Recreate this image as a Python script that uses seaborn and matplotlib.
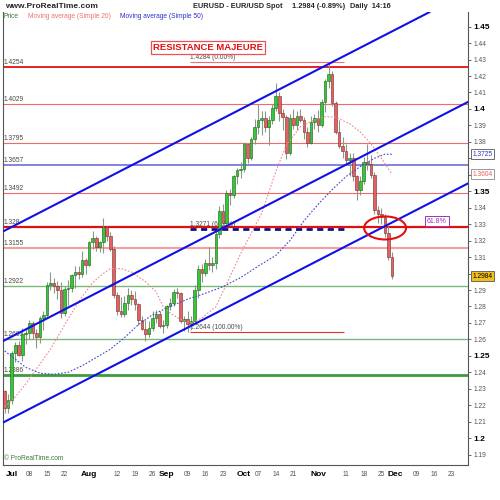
import numpy as np
import pandas as pd
import matplotlib
matplotlib.use("Agg")
import matplotlib.pyplot as plt
import seaborn as sns
from matplotlib.patches import Ellipse

# ---- data (EUR/USD daily) ----
first_day = "2010-06-29"
last_day = "2010-11-30"

opens = [1.2285, 1.2185, 1.2232, 1.2518, 1.2565, 1.2508, 1.2630, 1.2640, 1.2700, 1.2640,
         1.2615, 1.2730, 1.2750, 1.2930, 1.2945, 1.2925, 1.2900, 1.2760, 1.2905, 1.2915,
         1.2990, 1.3010, 1.2995, 1.3085, 1.3050, 1.3190, 1.3215, 1.3160, 1.3190, 1.3280,
         1.3230, 1.3150, 1.2870, 1.2775, 1.2755, 1.2820, 1.2870, 1.2845, 1.2815, 1.2715,
         1.2665, 1.2635, 1.2670, 1.2730, 1.2755, 1.2680, 1.2690, 1.2800, 1.2820, 1.2890,
         1.2880, 1.2710, 1.2725, 1.2695, 1.2710, 1.2900, 1.3030, 1.3005, 1.3065, 1.3050,
         1.3065, 1.3240, 1.3380, 1.3310, 1.3490, 1.3475, 1.3590, 1.3630, 1.3635, 1.3790,
         1.3700, 1.3815, 1.3890, 1.3935, 1.3945, 1.3890, 1.3930, 1.4005, 1.4080, 1.3975,
         1.3950, 1.3735, 1.3945, 1.3900, 1.3960, 1.3935, 1.3860, 1.3795, 1.3920, 1.3945,
         1.3900, 1.4040, 1.4170, 1.4210, 1.4035, 1.3860, 1.3775, 1.3745, 1.3690, 1.3700,
         1.3590, 1.3505, 1.3560, 1.3680, 1.3665, 1.3600, 1.3385, 1.3360, 1.3345, 1.3245,
         1.3100]
highs = [1.2292, 1.2270, 1.2530, 1.2585, 1.2590, 1.2670, 1.2665, 1.2720, 1.2712, 1.2665,
         1.2745, 1.2775, 1.2950, 1.3010, 1.2970, 1.2955, 1.2950, 1.2925, 1.2960, 1.3000,
         1.3045, 1.3045, 1.3140, 1.3095, 1.3200, 1.3260, 1.3230, 1.3200, 1.3335, 1.3290,
         1.3250, 1.3165, 1.2890, 1.2860, 1.2865, 1.2910, 1.2900, 1.2895, 1.2820, 1.2745,
         1.2715, 1.2710, 1.2770, 1.2780, 1.2775, 1.2720, 1.2810, 1.2850, 1.2905, 1.2915,
         1.2890, 1.2745, 1.2775, 1.2745, 1.2930, 1.3050, 1.3060, 1.3090, 1.3160, 1.3100,
         1.3265, 1.3410, 1.3420, 1.3510, 1.3515, 1.3600, 1.3640, 1.3680, 1.3800, 1.3795,
         1.3830, 1.3940, 1.4030, 1.3990, 1.3985, 1.3960, 1.4030, 1.4160, 1.4100, 1.4000,
         1.3965, 1.3970, 1.4000, 1.3990, 1.4000, 1.3950, 1.3890, 1.3960, 1.3970, 1.3995,
         1.4060, 1.4180, 1.4282, 1.4230, 1.4050, 1.3930, 1.3830, 1.3790, 1.3730, 1.3730,
         1.3600, 1.3590, 1.3710, 1.3785, 1.3720, 1.3620, 1.3410, 1.3400, 1.3360, 1.3290,
         1.3130]
lows = [1.2153, 1.2150, 1.2205, 1.2460, 1.2500, 1.2470, 1.2570, 1.2605, 1.2600, 1.2550,
        1.2580, 1.2660, 1.2730, 1.2900, 1.2880, 1.2845, 1.2730, 1.2745, 1.2810, 1.2885,
        1.2910, 1.2965, 1.2980, 1.2995, 1.3045, 1.3150, 1.3140, 1.3130, 1.3125, 1.3200,
        1.3140, 1.2850, 1.2750, 1.2735, 1.2735, 1.2780, 1.2810, 1.2780, 1.2690, 1.2655,
        1.2588, 1.2615, 1.2650, 1.2700, 1.2670, 1.2640, 1.2670, 1.2780, 1.2800, 1.2850,
        1.2700, 1.2650, 1.2644, 1.2660, 1.2700, 1.2850, 1.2950, 1.2985, 1.3020, 1.3010,
        1.3030, 1.3215, 1.3290, 1.3300, 1.3415, 1.3460, 1.3545, 1.3580, 1.3620, 1.3670,
        1.3690, 1.3790, 1.3850, 1.3840, 1.3860, 1.3780, 1.3910, 1.3990, 1.3925, 1.3870,
        1.3695, 1.3720, 1.3880, 1.3870, 1.3920, 1.3820, 1.3770, 1.3785, 1.3880, 1.3860,
        1.3890, 1.3980, 1.4130, 1.4020, 1.3850, 1.3760, 1.3700, 1.3660, 1.3590, 1.3560,
        1.3445, 1.3480, 1.3545, 1.3630, 1.3580, 1.3360, 1.3310, 1.3300, 1.3220, 1.3080,
        1.2968]
closes = [1.2185, 1.2232, 1.2518, 1.2565, 1.2508, 1.2630, 1.2640, 1.2700, 1.2640, 1.2615,
          1.2730, 1.2750, 1.2930, 1.2945, 1.2925, 1.2900, 1.2760, 1.2905, 1.2915, 1.2990,
          1.3010, 1.2995, 1.3085, 1.3050, 1.3190, 1.3215, 1.3160, 1.3190, 1.3280, 1.3230,
          1.3150, 1.2870, 1.2775, 1.2755, 1.2820, 1.2870, 1.2845, 1.2815, 1.2715, 1.2665,
          1.2635, 1.2670, 1.2730, 1.2755, 1.2680, 1.2690, 1.2800, 1.2820, 1.2890, 1.2880,
          1.2710, 1.2725, 1.2695, 1.2710, 1.2900, 1.3030, 1.3005, 1.3065, 1.3050, 1.3065,
          1.3240, 1.3380, 1.3310, 1.3490, 1.3475, 1.3590, 1.3630, 1.3635, 1.3790, 1.3700,
          1.3815, 1.3890, 1.3935, 1.3945, 1.3890, 1.3930, 1.4005, 1.4080, 1.3975, 1.3950,
          1.3735, 1.3945, 1.3900, 1.3960, 1.3935, 1.3860, 1.3795, 1.3920, 1.3945, 1.3900,
          1.4040, 1.4170, 1.4210, 1.4035, 1.3860, 1.3775, 1.3745, 1.3690, 1.3700, 1.3590,
          1.3505, 1.3560, 1.3680, 1.3665, 1.3600, 1.3385, 1.3360, 1.3345, 1.3245, 1.3100,
          1.2984]

sma20_dates = ["2010-06-29", "2010-07-02", "2010-07-07", "2010-07-12", "2010-07-16",
               "2010-07-21", "2010-07-26", "2010-07-29", "2010-08-03", "2010-08-06",
               "2010-08-10", "2010-08-13", "2010-08-18", "2010-08-20", "2010-08-24",
               "2010-08-27", "2010-08-31", "2010-09-02", "2010-09-07", "2010-09-10",
               "2010-09-15", "2010-09-21", "2010-09-27", "2010-09-30", "2010-10-04",
               "2010-10-08", "2010-10-14", "2010-10-19", "2010-10-25", "2010-10-29",
               "2010-11-03", "2010-11-08", "2010-11-12", "2010-11-17", "2010-11-22",
               "2010-11-25", "2010-11-30"]
sma20_vals = [1.2190, 1.2250, 1.2330, 1.2420, 1.2540, 1.2650, 1.2760, 1.2860, 1.2945,
              1.3000, 1.3030, 1.3030, 1.3010, 1.2980, 1.2950, 1.2890, 1.2800, 1.2760,
              1.2720, 1.2700, 1.2730, 1.2799, 1.2981, 1.3120, 1.3203, 1.3366, 1.3620,
              1.3780, 1.3892, 1.3933, 1.3953, 1.3950, 1.3910, 1.3860, 1.3790, 1.3700,
              1.3604]

sma50_dates = ["2010-06-29", "2010-07-02", "2010-07-07", "2010-07-13", "2010-07-19",
               "2010-07-23", "2010-07-29", "2010-08-04", "2010-08-10", "2010-08-16",
               "2010-08-20", "2010-08-26", "2010-09-02", "2010-09-09", "2010-09-16",
               "2010-09-23", "2010-09-30", "2010-10-07", "2010-10-14", "2010-10-20",
               "2010-10-26", "2010-11-01", "2010-11-05", "2010-11-11", "2010-11-17",
               "2010-11-23", "2010-11-26", "2010-11-30"]
sma50_vals = [1.2530, 1.2480, 1.2430, 1.2395, 1.2388, 1.2400, 1.2440, 1.2490, 1.2540,
              1.2610, 1.2690, 1.2750, 1.2800, 1.2845, 1.2880, 1.2920, 1.2975, 1.3045,
              1.3110, 1.3200, 1.3320, 1.3420, 1.3510, 1.3590, 1.3650, 1.3700, 1.3725,
              1.3725]

# horizontal levels: value, label, colour, width
level_vals = [1.4254, 1.4029, 1.3795, 1.3657, 1.3492, 1.328, 1.3155, 1.2922, 1.2603, 1.2386]
level_labels = ["1.4254", "1.4029", "1.3795", "1.3657", "1.3492", "1.328", "1.3155",
                "1.2922", "1.2603", "1.2386"]
level_colors = ["#e01010", "#f06a6a", "#f06a6a", "#7a7ad8", "#f06a6a", "#e01010",
                "#f4a0a0", "#7ab87a", "#7ab87a", "#3c9c3c"]
level_widths = [1.3, 0.8, 0.8, 1.3, 0.8, 1.6, 1.5, 1.0, 1.0, 2.0]

# channel lines: two anchor points each (date, price)
channel_dates = ["2010-07-01", "2010-11-30"]
channel_upper = [1.3283, 1.4471]
channel_mid = [1.2617, 1.3805]
channel_low = [1.2122, 1.3310]

# fibonacci retracement
fib_start, fib_end = "2010-09-09", "2010-11-10"
fib_vals = [1.4284, 1.3271, 1.2644]
fib_labels = ["1.4284 (0.00%)", "1.3271 (61.8%)", "1.2644 (100.00%)"]

# x axis ticks
month_dates = ["2010-07-01", "2010-08-02", "2010-09-01", "2010-10-01", "2010-11-01", "2010-12-01"]
month_labels = ["Jul", "Aug", "Sep", "Oct", "Nov", "Dec"]
week_dates = ["2010-07-08", "2010-07-15", "2010-07-22", "2010-08-12", "2010-08-19",
              "2010-08-26", "2010-09-09", "2010-09-16", "2010-09-23", "2010-10-07",
              "2010-10-14", "2010-10-21", "2010-11-11", "2010-11-18", "2010-11-25",
              "2010-12-09", "2010-12-16", "2010-12-23"]

# ---- style ----
sns.set_style("white")
plt.rcParams["font.family"] = ["Liberation Sans", "DejaVu Sans"]

# trading-day positions, Jul 1 = 0
cal = pd.bdate_range("2010-06-29", "2010-12-31")
pos = {d.strftime("%Y-%m-%d"): i - 2 for i, d in enumerate(cal)}
def P(d):
    return pos[d]

days = [d.strftime("%Y-%m-%d") for d in pd.bdate_range(first_day, last_day)]
x = np.array([P(d) for d in days], dtype=float)
o, h, l, c = map(np.array, (opens, highs, lows, closes))

fig = plt.figure(figsize=(5, 5), dpi=100)
ax = fig.add_axes([0.006, 0.07, 0.93, 0.906])
ax.set_xlim(-2.47, 129.6)
ax.set_ylim(1.1837, 1.4589)

# horizontal levels
for v, lab, col, w in zip(level_vals, level_labels, level_colors, level_widths):
    ax.axhline(v, color=col, lw=w, zorder=1)
    ax.text(-2.2, v + 0.0006, lab, fontsize=4.8, color="#4a4a3a", va="bottom", ha="left", zorder=1)

# fibonacci
fx0, fx1 = P(fib_start) + 0.65, P(fib_end) + 0.4
ax.hlines(fib_vals[0], fx0, fx1, color="#f07070", lw=0.8, zorder=2)
ax.hlines(fib_vals[2], fx0, fx1, color="#e03030", lw=0.8, zorder=2)
ax.hlines(fib_vals[1], fx0, fx1, color="#101080", lw=2.0, linestyles=(0, (2.2, 1.6)), zorder=6)
for v, lab in zip(fib_vals, fib_labels):
    ax.text(fx0, v + 0.0006, lab, fontsize=4.8, color="#4a4a4a", va="bottom", ha="left", zorder=2)

# candles
up = c >= o
ax.vlines(x, l, h, color="#8a9a82", lw=0.8, zorder=3)
ax.bar(x[up], (c - o)[up], bottom=o[up], width=0.75, color="#34c934",
       edgecolor="#1e5a1e", lw=0.4, zorder=4)
ax.bar(x[~up], (c - o)[~up], bottom=o[~up], width=0.75, color="#e06262",
       edgecolor="#7a2a2a", lw=0.4, zorder=4)

# moving averages
sns.lineplot(x=[P(d) for d in sma20_dates], y=sma20_vals, ax=ax, color="#f08a8a",
             lw=0.8, linestyle=(0, (1.5, 1.5)), zorder=5)
sns.lineplot(x=[P(d) for d in sma50_dates], y=sma50_vals, ax=ax, color="#4545c8",
             lw=0.8, linestyle=(0, (1.5, 1.5)), zorder=5)

# channel
cx = [P(d) for d in channel_dates]
for line in (channel_upper, channel_mid, channel_low):
    ax.axline((cx[0], line[0]), (cx[1], line[1]), color="#1010e8", lw=1.5, zorder=7)

# circle around the break
ax.add_patch(Ellipse((106.05, 1.3277), width=11.9, height=0.0140, fill=False,
                     edgecolor="#e01010", lw=1.5, zorder=8))

ax.text(55.8, 1.4375, "RESISTANCE MAJEURE", fontsize=6.8, fontweight="bold", color="#e01010",
        ha="center", va="center", zorder=9,
        bbox=dict(boxstyle="square,pad=0.22", fc="white", ec="#f05050", lw=0.9))
ax.text(120.8, 1.3318, "61.8%", fontsize=5, color="#a030c0", ha="center", va="center", zorder=9,
        bbox=dict(boxstyle="square,pad=0.25", fc="white", ec="#a030c0", lw=0.7))

# axes / ticks
sns.despine(ax=ax, top=True, right=False, left=False, bottom=False)
for s in ("left", "right", "bottom"):
    ax.spines[s].set_color("#555555")
    ax.spines[s].set_linewidth(0.8)

yt = np.round(np.arange(1.19, 1.4501, 0.01), 2)
ax.yaxis.tick_right()
ax.set_yticks(yt)
ax.set_yticklabels([f"{v:g}" for v in yt])
# price boxes sit on top of these tick labels
covered = {1.37, 1.36, 1.30}
for v, t in zip(yt, ax.get_yticklabels()):
    if round(v * 100) % 5 == 0:
        t.set_fontsize(6)
        t.set_fontweight("bold")
        t.set_color("black")
    else:
        t.set_fontsize(4.8)
        t.set_color("#555555")
    if float(v) in covered:
        t.set_visible(False)
ax.tick_params(axis="y", direction="out", length=2.5, width=0.6, color="#555555", pad=1.5)

xt = [P(d) for d in month_dates] + [P(d) for d in week_dates]
xl = month_labels + [d[-2:] for d in week_dates]
ax.set_xticks(xt)
ax.set_xticklabels(xl)
for t in ax.get_xticklabels():
    if t.get_text() in month_labels:
        t.set_fontsize(6)
        t.set_fontweight("bold")
        t.set_color("black")
    else:
        t.set_fontsize(4.8)
        t.set_color("#555555")
ax.tick_params(axis="x", direction="out", length=2.5, width=0.6, color="#555555", pad=1.5)

# value boxes on the right
yax = ax.get_yaxis_transform()
ax.text(1.01, sma50_vals[-1], f"{sma50_vals[-1]:.4f}", transform=yax, fontsize=4.8,
        color="#3030c0", va="center", ha="left", zorder=10, clip_on=False,
        bbox=dict(boxstyle="square,pad=0.2", fc="white", ec="#555555", lw=0.6))
ax.text(1.01, sma20_vals[-1], f"{sma20_vals[-1]:.4f}", transform=yax, fontsize=4.8,
        color="#e06060", va="center", ha="left", zorder=10, clip_on=False,
        bbox=dict(boxstyle="square,pad=0.2", fc="white", ec="#888888", lw=0.6))
ax.text(1.01, closes[-1], f"{closes[-1]:.4f}", transform=yax, fontsize=4.8,
        color="black", va="center", ha="left", zorder=10, clip_on=False,
        bbox=dict(boxstyle="square,pad=0.2", fc="#f2c01a", ec="#555555", lw=0.6))

# header and legend
fig.text(0.01, 0.988, "www.ProRealTime.com", fontsize=6, fontweight="bold", va="center")
fig.text(0.386, 0.988, "EURUSD - EUR/USD Spot", fontsize=5.3, fontweight="bold", va="center")
fig.text(0.584, 0.988, "1.2984 (-0.89%)", fontsize=5.3, fontweight="bold", va="center")
fig.text(0.70, 0.988, "Daily  14:16", fontsize=5.3, fontweight="bold", va="center")
fig.text(0.008, 0.968, "Price", fontsize=4.8, color="#3a7a3a", va="center")
fig.text(0.056, 0.968, "Moving average (Simple 20)", fontsize=4.8, color="#f07070", va="center")
fig.text(0.240, 0.968, "Moving average (Simple 50)", fontsize=4.8, color="#3030d0", va="center")
fig.text(0.008, 0.082, "© ProRealTime.com", fontsize=4.8, color="#3a7a3a", va="center")

fig.savefig("out.png", dpi=100, facecolor="white")
